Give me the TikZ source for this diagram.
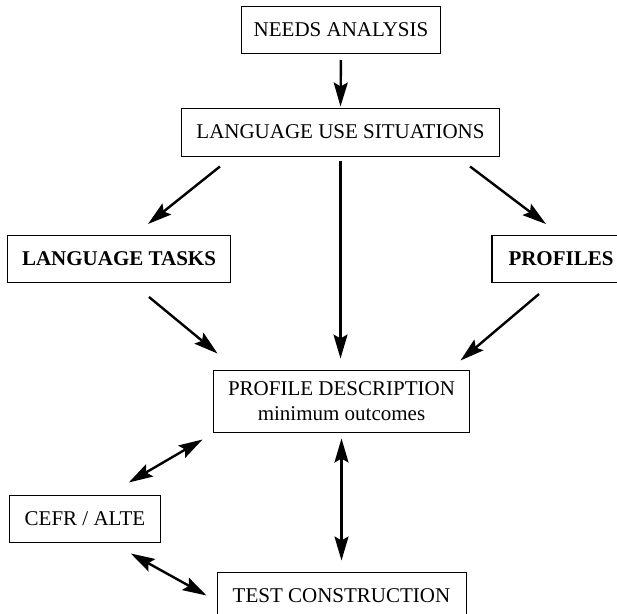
\documentclass[tikz,border=0pt]{standalone}
\usepackage{fontspec}
\setmainfont{Liberation Serif}
\usetikzlibrary{arrows.meta}

\tikzset{
  box/.style={draw, line width=1pt, inner xsep=15pt, inner ysep=2pt,
    minimum height=47pt, font=\fontsize{21}{25}\selectfont},
  arr/.style={line width=2.4pt, -{Stealth[length=24pt, width=14pt, inset=4pt]}},
  dblarr/.style={line width=2.4pt, {Stealth[length=24pt, width=14pt, inset=4pt]}-{Stealth[length=24pt, width=14pt, inset=4pt]}}
}

\begin{document}
\begin{tikzpicture}[x=1pt, y=1pt]
			%%%%% FRAME %%%%%
			\useasboundingbox (0, 0) rectangle (617, -613);
			\clip (0, 0) rectangle (617, -613);
			
			%%%%% BOXES %%%%%
			\node[box, inner xsep=12.5pt] (needs) at (341, -30) {NEEDS ANALYSIS};
			\node[box, minimum height=48pt] (situations) at (340.5, -132) {LANGUAGE USE SITUATIONS};
			
			\node[box, font=\fontsize{21}{25}\selectfont\bfseries] (tasks) at (119, -259) {LANGUAGE TASKS};
			\node[box, inner xsep=16.5pt, font=\fontsize{21}{25}\selectfont\bfseries] (profiles) at (561, -259) {PROFILES};
			
			\node[box, align=center, minimum width=249pt, minimum height=62pt] (description) at (341.5, -401)
				{PROFILE DESCRIPTION\\minimum outcomes};
			
			\node[box] (cefr) at (85, -518.5) {CEFR / ALTE};
			\node[box, minimum width=249pt] (construction) at (341.5, -595.5) {TEST CONSTRUCTION};
			
			%%%%% ARROWS %%%%%
			\draw[arr, shorten <=6pt, shorten >=1pt] (needs.south) -- (situations.north);
			
			\draw[arr] ([xshift=39pt, yshift=-10pt]situations.south west) -- ([xshift=29pt, yshift=11pt]tasks.north);
			\draw[arr] ([xshift=-30pt, yshift=-10pt]situations.south east) -- ([xshift=-15pt, yshift=11pt]profiles.north);
			\draw[arr, shorten <=4pt, shorten >=11pt] (situations.south) -- (situations.south |- description.north);
			
			\draw[arr] ([xshift=30pt, yshift=-14pt]tasks.south) -- ([xshift=5pt, yshift=16pt]description.north west);
			\draw[arr] ([xshift=-22pt, yshift=-11pt]profiles.south) -- ([xshift=-10pt, yshift=9pt]description.north east);
			
			\draw[dblarr] ([xshift=-10pt, yshift=-7pt]description.south west) -- ([xshift=-32pt, yshift=12pt]cefr.north east);
			\draw[dblarr, shorten <=6pt, shorten >=11pt] (description.south) -- (construction.north);
			\draw[dblarr] ([xshift=-30pt, yshift=-11pt]cefr.south east) -- ([xshift=-10pt]construction.west);
			
		\end{tikzpicture}
\end{document}
